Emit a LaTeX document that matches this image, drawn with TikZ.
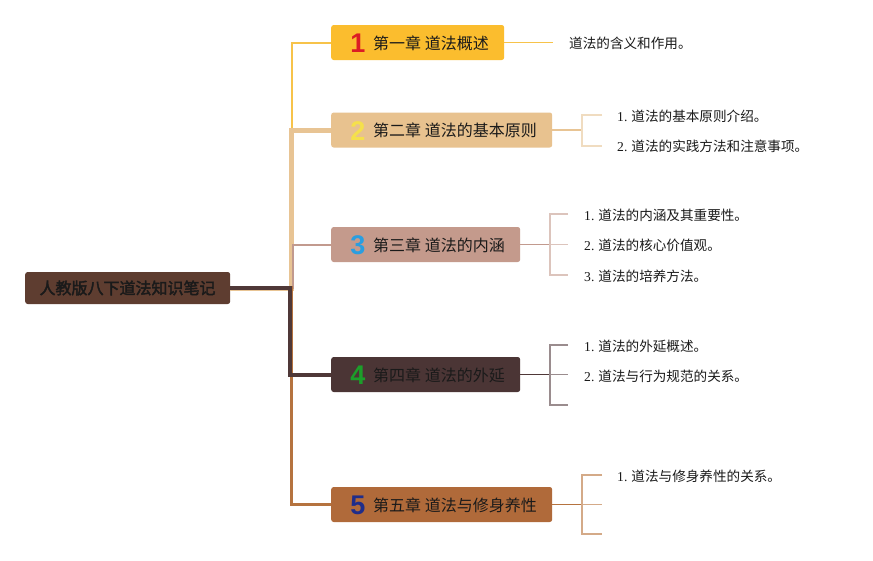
\documentclass[tikz,border=0pt]{standalone}
\usepackage{fontspec}
\setmainfont{Liberation Serif}
\newfontfamily\cjk{Noto Sans CJK SC}
\newfontfamily\cjkb[FakeBold=2.5]{Noto Sans CJK SC}
\newfontfamily\numfont{Liberation Sans}
\newfontfamily\lser{Liberation Serif}
\definecolor{cA}{HTML}{FBBD2E}
\definecolor{cB}{HTML}{E8C28F}
\definecolor{cC}{HTML}{C49A8C}
\definecolor{cD}{HTML}{4B3535}
\definecolor{cE}{HTML}{B06A3A}
\definecolor{cR}{HTML}{5E3D30}
\definecolor{lA}{HTML}{F7C34A}
\definecolor{lB}{HTML}{E8C494}
\definecolor{lC}{HTML}{C29A8E}
\definecolor{lD}{HTML}{4F3838}
\definecolor{lE}{HTML}{B5733F}
\definecolor{bB}{HTML}{F0DCC0}
\definecolor{bC}{HTML}{DCC4BC}
\definecolor{bD}{HTML}{9A8C8E}
\definecolor{bE}{HTML}{D4AA88}
\definecolor{txt}{HTML}{1A1A1A}
\definecolor{kA}{HTML}{DC1C24}
\definecolor{kB}{HTML}{F5E04C}
\definecolor{kC}{HTML}{2A9EE0}
\definecolor{kD}{HTML}{1C9E2A}
\definecolor{kE}{HTML}{1F2D8A}
\begin{document}
\begin{tikzpicture}[x=1pt,y=-1pt,
  box/.style={rectangle, rounded corners=2.5pt, minimum height=35pt, inner sep=0pt, anchor=west},
  numlab/.style={font=\numfont\bfseries\fontsize{27}{27}\selectfont, inner sep=0pt},
  title/.style={font=\cjk\fontsize{16}{16}\selectfont, text=txt, anchor=west, inner sep=0pt},
  leaf/.style={font=\cjk\fontsize{13.6}{14}\selectfont, text=txt, anchor=west, inner sep=0pt},
  line cap=butt, line join=miter]
\useasboundingbox (0,0) rectangle (873,560);
\fill[white] (0,0) rectangle (873,560);
% root
\node[box, fill=cR, minimum width=205pt, minimum height=32pt] (root) at (25,288) {};
\node[font=\cjkb\fontsize{16}{16}\selectfont, text=txt, inner sep=0pt] (rootlab) at (127.5,288) {人教版八下道法知识笔记};
% branch boxes
\node[box, fill=cA, minimum width=173pt] (n1) at (331,42.5) {};
\node[box, fill=cB, minimum width=221pt] (n2) at (331,130) {};
\node[box, fill=cC, minimum width=189pt] (n3) at (331,244.5) {};
\node[box, fill=cD, minimum width=189pt] (n4) at (331,374.5) {};
\node[box, fill=cE, minimum width=221pt] (n5) at (331,504.5) {};
% numbers and titles
\node[numlab, text=kA] (k1) at (358,43) {1};
\node[numlab, text=kB] (k2) at (358,131) {2};
\node[numlab, text=kC] (k3) at (358,245.5) {3};
\node[numlab, text=kD] (k4) at (358,375.5) {4};
\node[numlab, text=kE] (k5) at (358,505.5) {5};
\node[title] (t1) at (373,43) {第一章 道法概述};
\node[title] (t2) at (373,130.5) {第二章 道法的基本原则};
\node[title] (t3) at (373,245) {第三章 道法的内涵};
\node[title] (t4) at (373,375) {第四章 道法的外延};
\node[title] (t5) at (373,505) {第五章 道法与修身养性};
% trunk connectors
\coordinate (tr1) at (291.5,288);
\coordinate (tr2) at (291,288);
\coordinate (tr3) at (292.5,288);
\coordinate (tr4) at (290,288);
\coordinate (tr5) at (291.5,288);
\draw[lA, line width=2pt] (root.east) -- (tr1) |- (n1.west);
\draw[lB, line width=5pt] (root.east) -- (tr2) |- (n2.west);
\draw[lC, line width=2pt] (root.east) -- (tr3) |- (n3.west);
\draw[lE, line width=3.5pt] (root.east) -- (tr5) |- (n5.west);
\draw[lD, line width=4pt] (root.east) -- (tr4) |- (n4.west);
% leaves branch 1
\node[leaf] (l11) at (569,43.5) {道法的含义和作用。};
\coordinate (e11) at (553,42.5);
\draw[lA, line width=1.2pt] (n1.east) -- (e11);
% branch 2
\coordinate (b2) at (582,130);
\coordinate (e21) at (602,115);
\coordinate (e22) at (602,146);
\node[leaf] (l21) at (617,116) {{\lser 1.} 道法的基本原则介绍。};
\node[leaf] (l22) at (617,146.5) {{\lser 2.} 道法的实践方法和注意事项。};
\draw[lB, line width=1.8pt] (n2.east) -- (b2);
\draw[bB, line width=1.8pt] (e21) -| (b2) |- (e22);
% branch 3
\coordinate (b3) at (550,244.5);
\coordinate (e31) at (568,214);
\coordinate (e32) at (568,244.5);
\coordinate (e33) at (568,275);
\node[leaf] (l31) at (584,215.5) {{\lser 1.} 道法的内涵及其重要性。};
\node[leaf] (l32) at (584,245.5) {{\lser 2.} 道法的核心价值观。};
\node[leaf] (l33) at (584,276) {{\lser 3.} 道法的培养方法。};
\draw[lC, line width=1.8pt] (n3.east) -- (b3);
\draw[bC, line width=1.5pt] (e31) -| (b3) |- (e33);
\draw[bC, line width=1.5pt] (b3) -- (e32);
% branch 4
\coordinate (b4) at (550,374.5);
\coordinate (e41) at (568,345);
\coordinate (e42) at (568,374.5);
\coordinate (e43) at (568,405);
\node[leaf] (l41) at (584,346.5) {{\lser 1.} 道法的外延概述。};
\node[leaf] (l42) at (584,376.5) {{\lser 2.} 道法与行为规范的关系。};
\draw[lD, line width=1.8pt] (n4.east) -- (b4);
\draw[bD, line width=1.5pt] (e41) -| (b4) |- (e43);
\draw[bD, line width=1.5pt] (b4) -- (e42);
% branch 5
\coordinate (b5) at (582,504.5);
\coordinate (e51) at (602,475);
\coordinate (e52) at (602,504.5);
\coordinate (e53) at (602,534);
\node[leaf] (l51) at (617,476.5) {{\lser 1.} 道法与修身养性的关系。};
\draw[lE, line width=1.8pt] (n5.east) -- (b5);
\draw[bE, line width=1.8pt] (e51) -| (b5) |- (e53);
\draw[bE, line width=1.8pt] (b5) -- (e52);
\end{tikzpicture}
\end{document}
